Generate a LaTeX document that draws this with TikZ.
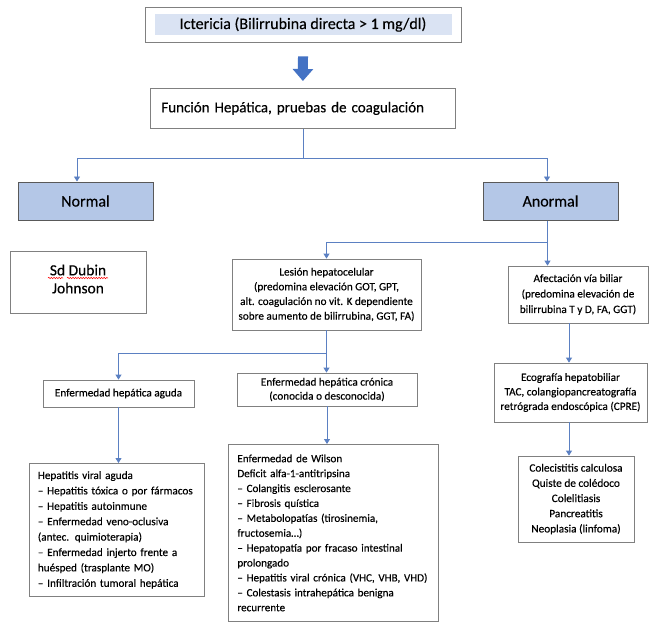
\documentclass[tikz,border=0pt]{standalone}
\usepackage{fontspec}
\setmainfont{Carlito}[FakeBold=0.3]
\usetikzlibrary{arrows.meta,calc,decorations.pathmorphing}

\definecolor{linkblue}{HTML}{5B80C2}
\definecolor{arrowblue}{HTML}{4472C4}
\definecolor{bandblue}{HTML}{DAE3F3}
\definecolor{headblue}{HTML}{B4C7E7}
\definecolor{boxgray}{HTML}{808080}
\definecolor{headgray}{HTML}{595959}

\tikzset{
  box/.style={draw=boxgray, line width=0.8pt, fill=white, inner sep=0pt, align=center},
  headbox/.style={box, draw=headgray, line width=1pt, fill=headblue,
    minimum width=135, minimum height=38, font=\fontsize{16}{19}\selectfont},
  smalltext/.style={font=\fontsize{11.2}{#1}\selectfont},
  smalltext/.default=14.8,
  listbox/.style={box, anchor=north west, align=left},
  link/.style={draw=linkblue, line width=0.8pt},
  conn/.style={link, -{Triangle[width=6pt,length=5pt]}},
  spellmark/.style={draw=red, line width=0.5pt, decorate,
    decoration={snake, amplitude=0.7pt, segment length=2.6pt}},
}

\begin{document}
\begin{tikzpicture}[x=1pt,y=-1pt]
\useasboundingbox (0,0) rectangle (652,622);
\fill[white] (0,0) rectangle (652,622);

% title with its tinted band
\fill[bandblue] (155,14) rectangle (452,35);
\node[box, fill=none, minimum width=316, minimum height=35,
  font=\fontsize{16}{19}\selectfont] (top) at (303,24.5)
  {Ictericia (Bilirrubina directa > 1 mg/dl)};

\node[box, anchor=north west, minimum width=305, minimum height=40,
  text width=283, inner xsep=11pt, align=left,
  font=\fontsize{15}{18}\selectfont] (func) at (150,88)
  {Función Hepática, pruebas de coagulación};

% block arrow between the two top boxes
\draw[arrowblue, line width=10pt, -{Triangle[width=20pt,length=12pt]}]
  ($(top.south)+(0,14)$) -- ($(func.north)+(0,-7)$);

% first split
\node[headbox] (normal) at (85.5,201) {Normal};
\node[headbox] (anormal) at (550.5,201) {Anormal};

\draw[link] (func.south) -- ++(0,30) coordinate (split1);
\draw[conn] (split1) -| ([xshift=-8.5pt]normal.north);
\draw[conn] (split1) -| ([xshift=-3.5pt]anormal.north);

% normal branch: framed box, its two lines sitting a little high
\node[box, minimum width=136, minimum height=62] (sd) at (78,282) {};
\node[inner sep=0pt, align=center, font=\fontsize{15.5}{18}\selectfont]
  (sdtext) at ([yshift=3pt]sd.center) {Sd Dubin\\Johnson};
\draw[spellmark] ([shift={(-30,-1)}]sdtext.center) -- ([shift={(-15,-1)}]sdtext.center);
\draw[spellmark] ([shift={(-11,-1)}]sdtext.center) -- ([shift={(30,-1)}]sdtext.center);

% abnormal branch
\node[box, smalltext=14.7, minimum width=189, minimum height=71] (lesion) at (326.5,294.5)
  {Lesión hepatocelular\\(predomina elevación GOT, GPT,\\alt. coagulación no vit. K dependiente\\sobre aumento de bilirrubina, GGT, FA)};
\node[box, smalltext=15.5, minimum width=140, minimum height=57] (afect) at (578,294.5)
  {Afectación vía biliar\\(predomina elevación de\\bilirrubina T y D, FA, GGT)};

\draw[link] ([xshift=-3pt]anormal.south) -- ++(0,22) coordinate (split2);
\draw[conn] (split2) -| (lesion.north);
\draw[conn] (split2) -- (split2 |- afect.north);

% hepatocellular branch
\node[box, smalltext, minimum width=151, minimum height=27] (aguda) at (118.5,393.5)
  {Enfermedad hepática aguda};
\node[box, smalltext=14, minimum width=180, minimum height=33] (cronica) at (327,389.5)
  {Enfermedad hepática crónica\\(conocida o desconocida)};

\draw[link] (lesion.south) -- ++(0,23) coordinate (split3);
\draw[conn] (split3) -| (aguda.north);
\draw[conn] (split3) -- (split3 |- cronica.north);

\node[listbox, smalltext=15.4, text width=158, inner xsep=8.5pt, minimum height=133] (hep) at (29,463)
  {Hepatitis viral aguda\\– Hepatitis tóxica o por fármacos\\– Hepatitis autoinmune\\– Enfermedad veno-oclusiva\\(antec. quimioterapia)\\– Enfermedad injerto frente a\\huésped (trasplante MO)\\– Infiltración tumoral hepática};
\node[listbox, font=\fontsize{11.1}{14.9}\selectfont, text width=192, inner xsep=9pt, minimum height=177] (wilson) at (228,444)
  {Enfermedad de Wilson\\Deficit alfa-1-antitripsina\\– Colangitis esclerosante\\– Fibrosis quística\\– Metabolopatías (tirosinemia,\\fructosemia…)\\– Hepatopatía por fracaso intestinal\\prolongado\\– Hepatitis viral crónica (VHC, VHB, VHD)\\– Colestasis intrahepática benigna\\recurrente};

\draw[conn] (aguda.south) -- (aguda.south |- hep.north);
\draw[conn] (cronica.south) -- (cronica.south |- wilson.north);

% biliary branch
\node[box, smalltext=14.5, minimum width=153, minimum height=59] (eco) at (570.5,392.5)
  {Ecografía hepatobiliar\\TAC, colangiopancreatografía\\retrógrada endoscópica (CPRE)};
\node[box, font=\fontsize{11.3}{15.2}\selectfont, minimum width=116, minimum height=86] (col) at (576,499)
  {Colecistitis calculosa\\Quiste de colédoco\\Colelitiasis\\Pancreatitis\\Neoplasia (linfoma)};

\draw[conn] ([xshift=-9pt]afect.south) -- ([xshift=-9pt]afect.south |- eco.north);
\draw[conn] ([xshift=-1.5pt]eco.south) -- ([xshift=-1.5pt]eco.south |- col.north);
\end{tikzpicture}
\end{document}
